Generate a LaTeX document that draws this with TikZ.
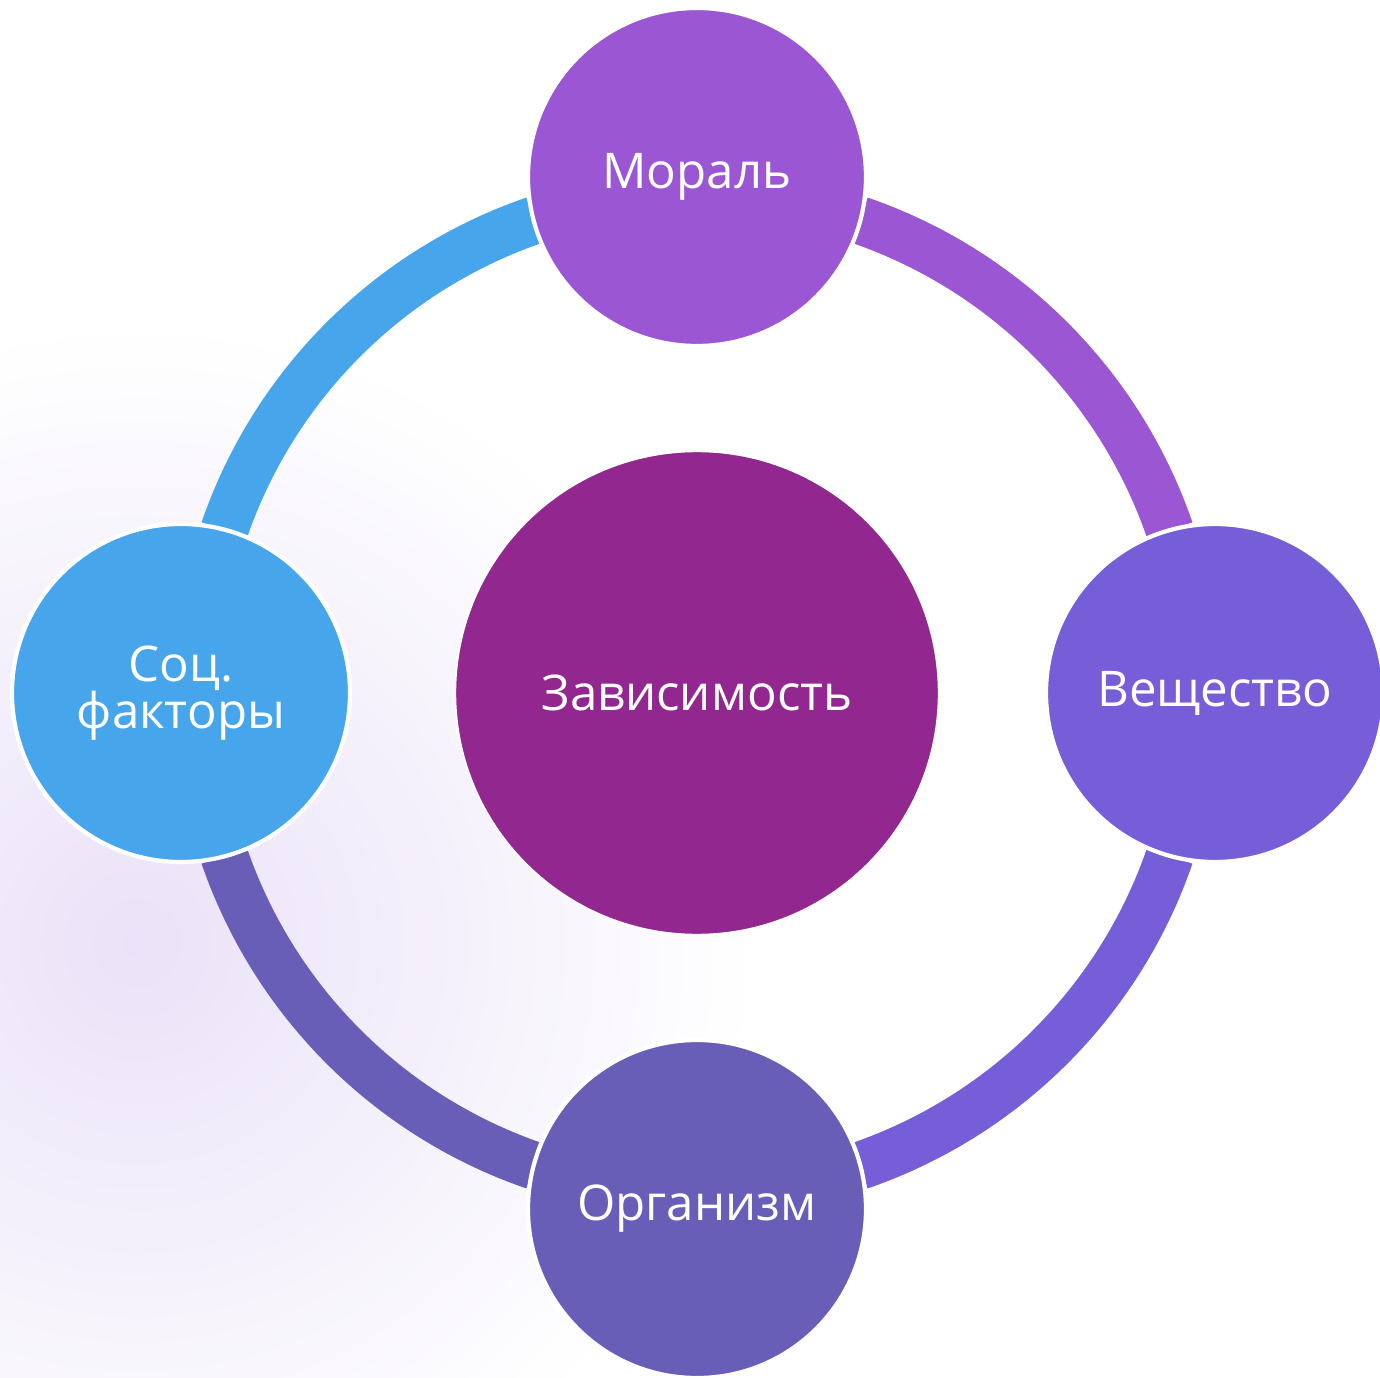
\documentclass[tikz,border=0pt]{standalone}
\usepackage{fontspec}
\setmainfont{Open Sans}

\definecolor{depc}{HTML}{92278F}
\definecolor{moralc}{HTML}{9B57D3}
\definecolor{substc}{HTML}{765ED9}
\definecolor{orgc}{HTML}{685EB8}
\definecolor{socc}{HTML}{47A6EB}
\definecolor{glowc}{RGB}{234,226,248}

\begin{document}
\begin{tikzpicture}[node distance=5.16cm,
  bubble/.style={circle, draw=white, line width=1.2pt, minimum size=3.38cm,
    inner sep=0pt, text=white, align=center,
    font=\fontsize{14}{13.5}\selectfont},
  ringpart/.style={line width=0.48cm}]

% background
\useasboundingbox (-6.97,-6.84) rectangle (6.83,6.93);
\fill[white] (-6.97,-6.84) rectangle (6.83,6.93);
\begin{scope}
\clip (-6.97,-6.84) rectangle (6.83,6.93);
\shade[inner color=glowc, outer color=white] (-5.6,-2.5) circle (6.2);
\end{scope}

% centre
\node (dep) [bubble, fill=depc, line width=0.4pt, minimum size=4.83cm] {Зависимость};

% ring
\draw[ringpart, moralc] ([shift={(19:5)}]dep.center) arc[start angle=19, end angle=71, radius=5cm];
\draw[ringpart, socc] ([shift={(109:5)}]dep.center) arc[start angle=109, end angle=161, radius=5cm];
\draw[ringpart, orgc] ([shift={(199:5)}]dep.center) arc[start angle=199, end angle=251, radius=5cm];
\draw[ringpart, substc] ([shift={(289:5)}]dep.center) arc[start angle=289, end angle=341, radius=5cm];

% nodes
\node (moral) [above of=dep, bubble, fill=moralc] {Мораль};
\node (subst) [right of=dep, xshift=0.02cm, bubble, fill=substc] {Вещество};
\node (org) [below of=dep, bubble, fill=orgc] {Организм};
\node (soc) [left of=dep, bubble, fill=socc] {Соц.\\факторы};
\end{tikzpicture}
\end{document}
